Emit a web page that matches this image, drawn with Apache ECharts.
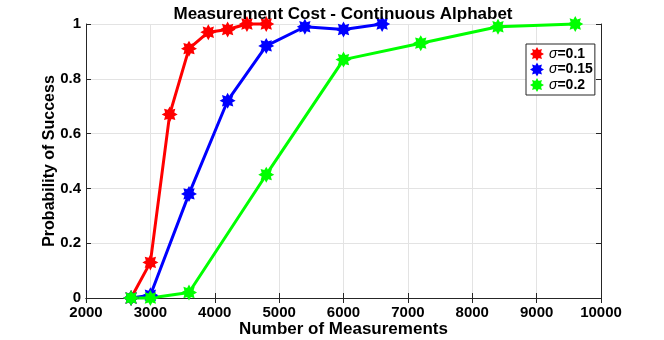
<!DOCTYPE html>
<html>
<head>
<meta charset="utf-8">
<script src="https://cdn.jsdelivr.net/npm/echarts@6/dist/echarts.min.js"></script>
<style>
  html, body { margin: 0; padding: 0; background: #fff; }
  #chart { width: 664px; height: 340px; }
</style>
</head>
<body>
<div id="chart"></div>
<script>
// values
const x1 = [2700, 3000, 3300, 3600, 3900, 4200, 4500, 4800]
const y1 = [0, 0.13, 0.67, 0.91, 0.97, 0.98, 1, 1]
const x2 = [2700, 3000, 3600, 4200, 4800, 5400, 6000, 6600]
const y2 = [0, 0.01, 0.38, 0.72, 0.92, 0.99, 0.98, 1]
const x3 = [2700, 3000, 3600, 4800, 6000, 7200, 8400, 9600]
const y3 = [0, 0, 0.02, 0.45, 0.87, 0.93, 0.99, 1]
const names = ['σ=0.1', 'σ=0.15', 'σ=0.2']
const colors = ['#ff0000', '#0000ff', '#00ff00']

// asterisk-like marker shape
function starPath (n, rIn) {
  let d = ''
  for (let i = 0; i < n * 2; i++) {
    const r = i % 2 === 0 ? 1 : rIn
    const a = Math.PI * i / n - Math.PI / 2
    d += (i === 0 ? 'M' : 'L') + (r * Math.cos(a)).toFixed(3) + ' ' + (r * Math.sin(a)).toFixed(3)
  }
  return 'path://' + d + 'Z'
}
const marker = starPath(8, 0.62)

const font = '"Liberation Sans", Arial, Helvetica, sans-serif'
const axisColor = '#262626'

function pairs (xs, ys) {
  return xs.map((x, i) => [x, ys[i]])
}

const series = [pairs(x1, y1), pairs(x2, y2), pairs(x3, y3)].map((d, i) => ({
  name: names[i],
  type: 'line',
  data: d,
  symbol: marker,
  symbolSize: 16,
  clip: false,
  lineStyle: { color: colors[i], width: 3 },
  itemStyle: { color: colors[i] },
  emphasis: { disabled: true }
}))

const chart = echarts.init(document.getElementById('chart'))
chart.setOption({
  animation: false,
  backgroundColor: '#fff',
  title: {
    text: 'Measurement Cost - Continuous Alphabet',
    left: 343,
    top: 6,
    padding: 0,
    textAlign: 'center',
    textStyle: { fontFamily: font, fontSize: 17, fontWeight: 'bold', color: '#000' }
  },
  legend: {
    orient: 'vertical',
    left: 526,
    top: 44,
    padding: [3, 2, 3, 4],
    itemGap: 1.5,
    itemWidth: 14,
    itemHeight: 14,
    icon: marker,
    borderColor: axisColor,
    borderWidth: 1,
    backgroundColor: '#fff',
    data: names,
    formatter: name => '{s|σ}{b|' + name.slice(1) + '}',
    textStyle: {
      rich: {
        s: { fontFamily: font, fontSize: 14, fontStyle: 'italic', color: '#000' },
        b: { fontFamily: font, fontSize: 14, fontWeight: 'bold', color: '#000' }
      }
    }
  },
  grid: { left: 86, right: 63, top: 24, bottom: 42, show: false, outerBoundsMode: 'none', containLabel: false },
  xAxis: [{
    type: 'value',
    min: 2000,
    max: 10000,
    interval: 1000,
    name: 'Number of Measurements',
    nameLocation: 'middle',
    nameGap: 23,
    nameMoveOverlap: false,
    nameTextStyle: { fontFamily: font, fontSize: 17, fontWeight: 'bold', color: '#000' },
    axisLine: { lineStyle: { color: axisColor, width: 1 } },
    axisTick: { inside: true, length: 5, lineStyle: { color: axisColor } },
    axisLabel: { margin: 7, formatter: v => String(v), fontFamily: font, fontSize: 15, fontWeight: 'bold', color: '#000' },
    splitLine: { show: true, lineStyle: { color: '#e3e3e3', width: 1 } }
  }, {
    type: 'value',
    position: 'top',
    min: 2000,
    max: 10000,
    interval: 1000,
    axisLine: { show: true, lineStyle: { color: axisColor, width: 1 } },
    axisTick: { show: true, inside: true, length: 5, lineStyle: { color: axisColor } },
    axisLabel: { show: false },
    splitLine: { show: false }
  }],
  yAxis: [{
    type: 'value',
    min: 0,
    max: 1,
    interval: 0.2,
    name: 'Probability of Success',
    nameLocation: 'middle',
    nameGap: 28,
    nameMoveOverlap: false,
    nameTextStyle: { fontFamily: font, fontSize: 16, fontWeight: 'bold', color: '#000' },
    axisLine: { show: true, lineStyle: { color: axisColor, width: 1 } },
    axisTick: { show: true, inside: true, length: 5, lineStyle: { color: axisColor } },
    axisLabel: { margin: 5, fontFamily: font, fontSize: 15, fontWeight: 'bold', color: '#000' },
    splitLine: { show: true, lineStyle: { color: '#e3e3e3', width: 1 } }
  }, {
    type: 'value',
    position: 'right',
    min: 0,
    max: 1,
    interval: 0.2,
    axisLine: { show: true, lineStyle: { color: axisColor, width: 1 } },
    axisTick: { show: true, inside: true, length: 5, lineStyle: { color: axisColor } },
    axisLabel: { show: false },
    splitLine: { show: false }
  }],
  series: series
})
</script>
</body>
</html>
